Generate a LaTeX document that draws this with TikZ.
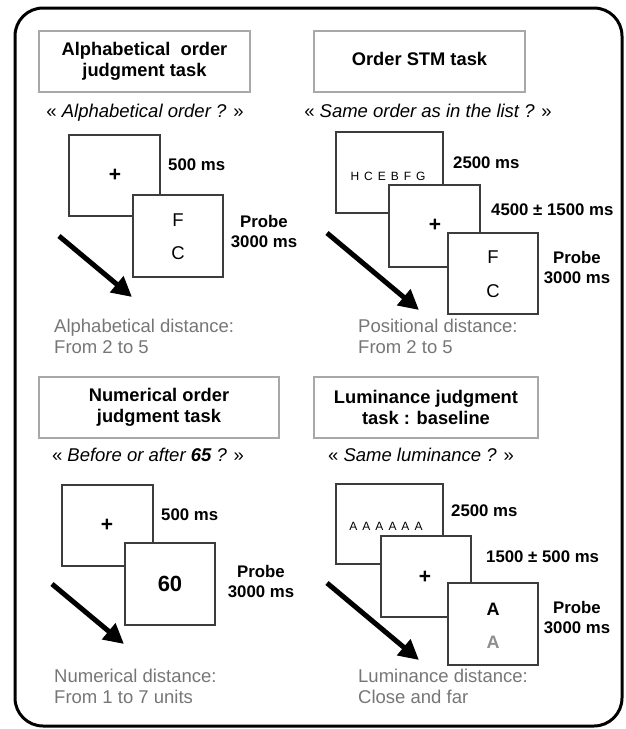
\documentclass[tikz,border=0pt]{standalone}
\usepackage{fontspec}
\setmainfont{Liberation Sans}
\usetikzlibrary{arrows.meta}
\definecolor{boxline}{HTML}{3C3C3C}
\definecolor{titleline}{HTML}{A8A8A8}
\definecolor{graytext}{HTML}{767676}
\definecolor{grayA}{HTML}{8E8E8E}
\begin{document}
\begin{tikzpicture}[x=1pt,y=-1pt,
  titlebox/.style={draw=titleline, line width=1.2pt, minimum height=61pt, inner sep=0pt, align=center, font=\fontsize{18.3}{21}\selectfont\bfseries},
  screen/.style={draw=boxline, line width=1.3pt, fill=white, inner sep=0pt, outer sep=0pt},
  question/.style={anchor=base, inner sep=0pt, font=\fontsize{18.5}{21}\selectfont},
  timing/.style={anchor=base west, inner sep=0pt, font=\fontsize{16.8}{20}\selectfont\bfseries},
  probe/.style={align=center, inner sep=0pt, font=\fontsize{16.8}{20}\selectfont\bfseries},
  dist/.style={anchor=base west, inner sep=0pt, text=graytext, font=\fontsize{18.5}{21}\selectfont},
  letter/.style={inner sep=0pt, font=\fontsize{18.5}{21}\selectfont},
  cross/.style={inner sep=0pt, font=\fontsize{21}{24}\selectfont\bfseries},
  list/.style={inner sep=0pt, font=\fontsize{12}{14}\selectfont},
  bigarrow/.style={line width=5pt, -{Triangle[length=20pt,width=20pt]}}]
\useasboundingbox (0,0) rectangle (625,729);
\draw[line width=3pt, rounded corners=28pt] (15,8) rectangle (622,726);

% ---------- top left ----------
\node[titlebox, minimum width=211pt] (t1) at (144.5,61.5) {Alphabetical~ order\\judgment task};
\node[question] (q1) at (145,117) {« \textit{Alphabetical order ?} »};
\node[screen, minimum width=91pt, minimum height=81pt] (a1) at (114.5,175.5) {};
\node[screen, minimum width=90pt, minimum height=82pt] (a2) at (178,236) {};
\node[cross] (a1p) at (115,175) {+};
\node[letter] (a2f) at (178,220) {F};
\node[letter] (a2c) at (178,253) {C};
\node[timing] (a1t) at (168,170) {500 ms};
\node[probe] (a2t) at (264,232) {Probe\\3000 ms};
\coordinate (ar1s) at (59,236);
\coordinate (ar1e) at (132,297);
\draw[bigarrow] (ar1s) -- (ar1e);
\node[dist] (d1a) at (54,332) {Alphabetical distance:};
\node[dist] (d1b) at (54,353) {From 2 to 5};

% ---------- top right ----------
\node[titlebox, minimum width=211pt] (t2) at (419.5,61.5) {Order STM task\strut};
\node[question] (q2) at (428,117) {« \textit{Same order as in the list ?} »};
\node[screen, minimum width=107pt, minimum height=81pt] (b1) at (389.5,172.5) {};
\node[screen, minimum width=91pt, minimum height=82pt] (b2) at (434.5,226) {};
\node[screen, minimum width=90pt, minimum height=81pt] (b3) at (493,273.5) {};
\node[list] (b1l) at (388,176) {H\hspace{5pt}C\hspace{5pt}E\hspace{5pt}B\hspace{5pt}F\hspace{5pt}G};
\node[cross] (b2p) at (435,225) {+};
\node[letter] (b3f) at (493,257) {F};
\node[letter] (b3c) at (493,291) {C};
\node[timing] (b1t) at (453,168) {2500 ms};
\node[timing] (b2t) at (491,215) {4500 ± 1500 ms};
\node[probe] (b3t) at (577,268) {Probe\\3000 ms};
\coordinate (ar2s) at (327,233);
\coordinate (ar2e) at (419,310);
\draw[bigarrow] (ar2s) -- (ar2e);
\node[dist] (d2a) at (358,332) {Positional distance:};
\node[dist] (d2b) at (358,353) {From 2 to 5};

% ---------- bottom left ----------
\node[titlebox, minimum width=240pt] (t3) at (159,407.5) {Numerical order\\judgment task};
\node[question] (q3) at (148,461.7) {« \textit{Before or after \textbf{65} ?} »};
\node[screen, minimum width=91pt, minimum height=81pt] (c1) at (107.5,525.5) {};
\node[screen, minimum width=90pt, minimum height=82pt] (c2) at (170,584) {};
\node[cross] (c1p) at (107,525) {+};
\node[inner sep=0pt, font=\fontsize{22}{24}\selectfont\bfseries] (c2n) at (170,584) {60};
\node[timing] (c1t) at (161,520) {500 ms};
\node[probe] (c2t) at (261,581.5) {Probe\\3000 ms};
\coordinate (ar3s) at (52,584);
\coordinate (ar3e) at (124,644);
\draw[bigarrow] (ar3s) -- (ar3e);
\node[dist] (d3a) at (54,682) {Numerical distance:};
\node[dist] (d3b) at (54,703) {From 1 to 7 units};

% ---------- bottom right ----------
\node[titlebox, minimum width=224pt] (t4) at (426,407.5) {Luminance judgment\\task : baseline};
\node[question] (q4) at (421,461.7) {« \textit{Same luminance ?} »};
\node[screen, minimum width=107pt, minimum height=80pt] (e1) at (389.5,524) {};
\node[screen, minimum width=90pt, minimum height=81pt] (e2) at (426,576.5) {};
\node[screen, minimum width=90pt, minimum height=82pt] (e3) at (493,624) {};
\node[list] (e1l) at (386,526) {A\hspace{5pt}A\hspace{5pt}A\hspace{5pt}A\hspace{5pt}A\hspace{5pt}A};
\node[cross] (e2p) at (425,577) {+};
\node[letter, font=\fontsize{18}{21}\selectfont\bfseries] (e3a) at (493,609) {A};
\node[letter, font=\fontsize{18}{21}\selectfont\bfseries, text=grayA] (e3b) at (493,642) {A};
\node[timing] (e1t) at (451,516.7) {2500 ms};
\node[timing] (e2t) at (486,562.7) {1500 ± 500 ms};
\node[probe] (e3t) at (577,617) {Probe\\3000 ms};
\coordinate (ar4s) at (327,583);
\coordinate (ar4e) at (419,660);
\draw[bigarrow] (ar4s) -- (ar4e);
\node[dist] (d4a) at (358,682) {Luminance distance:};
\node[dist] (d4b) at (358,703) {Close and far};
\end{tikzpicture}
\end{document}
